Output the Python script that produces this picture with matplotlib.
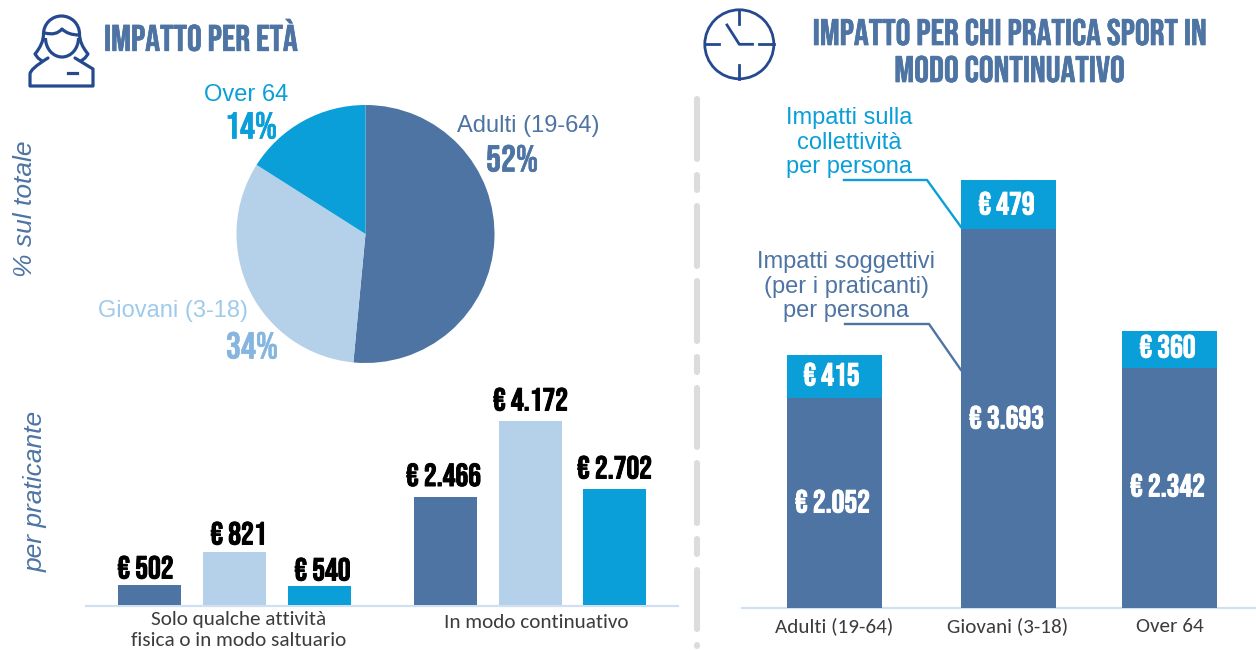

import matplotlib
matplotlib.use('Agg')
import matplotlib.pyplot as plt
from matplotlib.lines import Line2D
from matplotlib.patches import Circle, PathPatch, Arc
from matplotlib.path import Path
import matplotlib.patheffects as pe

W, H = 1256, 651
DARK = '#4d74a3'; LIGHT = '#b5d1ea'; CYAN = '#0a9fd8'; ICON = '#24498f'; GREY = '#3c3c3c'
COND = ['Bebas Neue', 'Roboto Condensed', 'DejaVu Sans']
ARIAL = ['Liberation Sans', 'DejaVu Sans']
CALI = ['Carlito', 'Open Sans', 'DejaVu Sans']

pie_labels = ['Adulti (19-64)', 'Giovani (3-18)', 'Over 64']
pie_shown = ['52%', '34%', '14%']
pie_sizes = [51.5, 32.5, 16.0]
group_lines = ['Solo qualche attività', 'fisica o in modo saltuario']
group_label2 = 'In modo continuativo'
occasional = [453, 1202, 431]
continuous = [2460, 4172, 2630]
occasional_text = ['€ 502', '€ 821', '€ 540']
continuous_text = ['€ 2.466', '€ 4.172', '€ 2.702']
age_labels = ['Adulti (19-64)', 'Giovani (3-18)', 'Over 64']
subjective = [2052, 3693, 2342]
collective = [415, 479, 360]
subjective_text = ['€ 2.052', '€ 3.693', '€ 2.342']
collective_text = ['€ 415', '€ 479', '€ 360']

fig = plt.figure(figsize=(W/100, H/100), dpi=100, facecolor='white')

def px_axes(x0, y0, x1, y1, **kw):
    return fig.add_axes([x0/W, 1-y1/H, (x1-x0)/W, (y1-y0)/H], **kw)

bg = px_axes(0, 0, W, H)
bg.set_xlim(0, W); bg.set_ylim(H, 0); bg.axis('off')

def T(x, y, s, size, color, fam=ARIAL, bold=0, **kw):
    kw.setdefault('ha', 'center'); kw.setdefault('va', 'center')
    t = bg.text(x, y, s, fontsize=size, color=color, family=fam, **kw)
    if bold:
        t.set_path_effects([pe.withStroke(linewidth=bold, foreground=color)])
    t.set_zorder(6)
    return t

# titles
T(104, 35.5, 'IMPATTO PER ETÀ', 26.6, DARK, COND, 0.5, ha='left')
T(1009.5, 32, 'IMPATTO PER CHI PRATICA SPORT IN', 26.6, DARK, COND, 0.5)
T(1009.5, 69, 'MODO CONTINUATIVO', 26.6, DARK, COND, 0.5)

# side labels
T(25, 209, '% sul totale', 19, DARK, ARIAL, rotation=90, style='italic')
T(36, 491, 'per praticante', 19, DARK, ARIAL, rotation=90, style='italic')

# divider
for y0, y1 in [(99, 159), (175, 190), (206, 266), (281, 341), (357, 372), (388, 447),
               (463, 523), (539, 554), (570, 629), (644.5, 645.5)]:
    bg.add_line(Line2D([697, 697], [y0, y1], color='#dcdcdc', lw=4.4, solid_capstyle='round'))

# pie
R = 129; cx, cy = 365.5, 234
pa = px_axes(cx-R, cy-R, cx+R, cy+R)
pa.pie(pie_sizes, colors=[DARK, LIGHT, CYAN], startangle=90, counterclock=False, radius=1.0)
pa.set_xlim(-1, 1); pa.set_ylim(-1, 1); pa.set_aspect('auto')

T(528, 126, pie_labels[0], 17, DARK)
T(512, 158, pie_shown[0], 27, DARK, COND, 0.4)
T(173, 311, pie_labels[1], 17, '#9ecbeb')
T(252, 345, pie_shown[1], 27, '#86b6e0', COND, 0.4)
T(246, 95, pie_labels[2], 17, CYAN)
T(251, 125, pie_shown[2], 27, CYAN, COND, 0.4)

# left bars
ax = px_axes(86, 380, 678, 605)
ax.set_xlim(86, 678)
ax.set_ylim(0, 225/0.0441)
ax.axis('off')
cols = [DARK, LIGHT, CYAN]
xs1 = [149.5, 234.5, 319.5]
xs2 = [445.5, 530.5, 614.5]
off1 = [(-4, 18), (4, 19), (3, 17)]
off2 = [(-2, 22), (0, 22), (0, 22)]
for xs, vals, txt, off in [(xs1, occasional, occasional_text, off1), (xs2, continuous, continuous_text, off2)]:
    ax.bar(xs, vals, width=63, color=cols)
    for x, v, t, (dx, dy) in zip(xs, vals, txt, off):
        a = ax.annotate(t, (x, v), xytext=(dx, dy), textcoords='offset pixels', ha='center', va='center',
                        fontsize=23, family=COND, color='black', annotation_clip=False)
        a.set_path_effects([pe.withStroke(linewidth=0.7, foreground='black')])
bg.add_line(Line2D([86, 678], [605.5, 605.5], color='#cfe0f2', lw=1.6))
for y, s in zip([619, 640], group_lines):
    T(239, y, s, 15.2, GREY, CALI)
T(536, 622.5, group_label2, 15.2, GREY, CALI)

# right stacked bars
ax2 = px_axes(742, 160, W, 608)
ax2.set_xlim(742, W)
ax2.set_ylim(0, 448/0.1025)
ax2.axis('off')
xs3 = [834.5, 1008.5, 1169.5]
ax2.bar(xs3, subjective, width=95, color=DARK)
ax2.bar(xs3, collective, width=95, bottom=subjective, color=CYAN)
low_px = [107, 191, 123]
up_px = [234, 405, 262]
dx_low = [-2, -2, -2]
dx_up = [-3, -2, -2]
for x, st, ct, a1, a2, p1, p2 in zip(xs3, subjective_text, collective_text, dx_low, dx_up, low_px, up_px):
    for s, dx, p in [(st, a1, p1), (ct, a2, p2)]:
        n = ax2.annotate(s, (x, 0), xytext=(dx, p), textcoords='offset pixels', ha='center', va='center',
                         color='white', fontsize=23, family=COND, annotation_clip=False)
        n.set_path_effects([pe.withStroke(linewidth=0.7, foreground='white')])
bg.add_line(Line2D([742, W], [608, 608], color='#cfe0f2', lw=1.6))
for x, l in zip([834, 1008, 1170], age_labels):
    T(x, 626, l, 15.2, GREY, CALI)

# annotations
for y, s in zip([118, 143, 167], ['Impatti sulla', 'collettività', 'per persona']):
    T(849, y, s, 17, CYAN)
for y, s in zip([262, 287, 311], ['Impatti soggettivi', '(per i praticanti)', 'per persona']):
    T(846, y, s, 17, DARK)
bg.add_line(Line2D([844, 927, 961], [180, 180, 227], color=CYAN, lw=1.7))
bg.add_line(Line2D([845, 929, 961], [324, 324, 370], color=DARK, lw=1.7))

# clock icon
bg.add_patch(Circle((739.3, 44.3), 34.5, fill=False, ec=ICON, lw=2.0))
for sx, sy in [([739.3, 739.3], [10, 24]), ([739.3, 739.3], [65, 79]), ([704.5, 719], [44.3, 44.3]),
               ([759, 774], [44.3, 44.3]), ([727, 739.3, 752.5], [25, 44.3, 44.3])]:
    bg.add_line(Line2D(sx, sy, color=ICON, lw=2.0))

# person icon
lw = 2.3
M, L, Q = Path.MOVETO, Path.LINETO, Path.CURVE3
bg.add_patch(Arc((61.5, 34), 36, 36, theta1=180, theta2=360, ec=ICON, lw=lw))
bg.add_patch(Arc((62, 38), 33, 38, theta1=0, theta2=180, ec=ICON, lw=lw))
icon_paths = [
    ([(43.5, 34), (43.5, 44), (35, 54), (38, 58), (42, 61)], [M, Q, Q, L, L]),
    ([(79.5, 34), (79.5, 44), (88, 54), (85, 58), (81, 61)], [M, Q, Q, L, L]),
    ([(45, 33), (56, 36), (62, 29), (68, 35), (79, 35)], [M, Q, Q, Q, Q]),
    ([(48, 58), (30, 69), (30, 74), (30, 86), (33, 86), (90, 86), (93, 86), (93, 74), (93, 69), (75, 58)],
     [M, Q, Q, L, Q, Q, L, Q, Q, L]),
]
for v, c in icon_paths:
    bg.add_patch(PathPatch(Path(v, c), fill=False, ec=ICON, lw=lw, capstyle='round', joinstyle='round'))
bg.add_line(Line2D([68, 77], [72.5, 72.5], color=ICON, lw=lw))

fig.savefig('out.png', dpi=100, facecolor='white')
